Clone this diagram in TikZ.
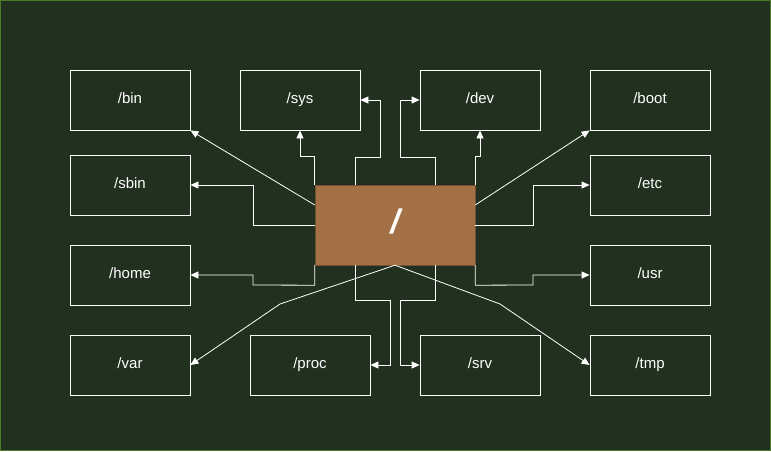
\documentclass[tikz,border=0pt]{standalone}
\usepackage{fontspec}
\setmainfont{Liberation Sans}
\usetikzlibrary{arrows.meta}
\definecolor{bg}{HTML}{21301F}
\definecolor{frame}{HTML}{4F7A2A}
\definecolor{root}{HTML}{A37145}
\tikzset{
  dirbox/.style={draw=white,line width=0.8pt,minimum width=120pt,minimum height=60pt,text=white,font=\fontsize{15}{18}\selectfont,inner sep=0pt,text height=10pt,text depth=4pt},
  conn/.style={draw=white,line width=0.8pt,-{Triangle[length=8pt,width=7pt]}},
}
\begin{document}
\begin{tikzpicture}[x=1pt,y=-1pt]
\fill[bg] (0,0) rectangle (771,451);
\draw[frame,line width=1pt] (0.5,0.5) rectangle (770.5,450.5);
\useasboundingbox (0,0) rectangle (771,451);
\node[dirbox] (bin) at (130,100) {/bin};
\node[dirbox] (sys) at (300,100) {/sys};
\node[dirbox] (dev) at (480,100) {/dev};
\node[dirbox] (boot) at (650,100) {/boot};
\node[dirbox] (sbin) at (130,185) {/sbin};
\node[dirbox] (etc) at (650,185) {/etc};
\node[dirbox] (home) at (130,275) {/home};
\node[dirbox] (usr) at (650,275) {/usr};
\node[dirbox] (var) at (130,365) {/var};
\node[dirbox] (proc) at (310,365) {/proc};
\node[dirbox] (srv) at (480,365) {/srv};
\node[dirbox] (tmp) at (650,365) {/tmp};
\node[draw=root!70!black,fill=root,minimum width=160pt,minimum height=80pt,inner sep=0pt,text=white,font=\fontsize{34}{38}\selectfont\bfseries\itshape,text height=22pt,text depth=6pt] (r) at (395,225) {/};
% connectors
\draw[conn] (r.west|-0,205) -- (bin.south east);
\draw[conn] (r.north west) -- ++(0,-28) -| (sys.south);
\draw[conn] (355,185) -- (355,157) -- (380,157) |- (sys.east);
\draw[conn] (435,185) -- (435,157) -- (400,157) |- (dev.west);
\draw[conn] (r.north east) -- ++(0,-28) -| (dev.south);
\draw[conn] (r.east|-0,205) -- (boot.south west);
\draw[conn] (r.east|-0,225) -- (533,225) |- (etc.west);
\draw[conn] (r.west|-0,225) -- (253,225) |- (sbin.east);
\draw[conn] (r.south west) -- ++(0,20) -- (253,285) |- (home.east);
\draw[conn] (r.south east) -- ++(0,20) -- (533,285) |- (usr.west);
\draw[conn] (r.south) -- (280,304) -- (var.south east|-0,365);
\draw[conn] (r.south) -- (500,304) -- (tmp.west|-0,365);
\draw[conn] (355,265) -- (355,300) -- (390,300) |- (proc.east);
\draw[conn] (435,265) -- (435,300) -- (400,300) |- (srv.west);
\end{tikzpicture}
\end{document}
